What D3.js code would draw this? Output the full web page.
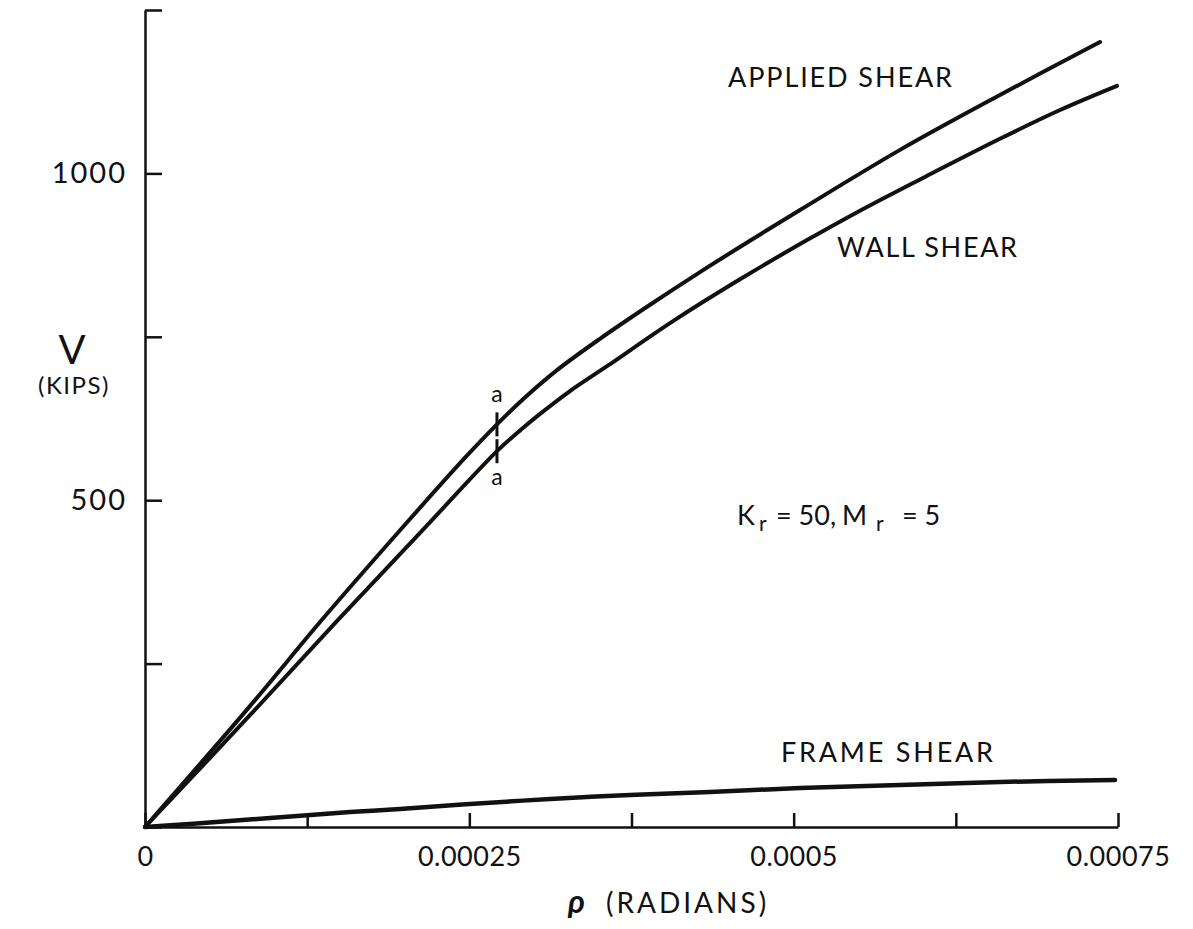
<!DOCTYPE html>
<html>
<head>
<meta charset="utf-8">
<script src="https://cdn.jsdelivr.net/npm/d3@7"></script>
<style>
  html, body { margin: 0; padding: 0; background: #fff; }
  svg text { font-family: "Lato", "Open Sans", "DejaVu Sans", sans-serif; fill: #111; }
</style>
</head>
<body>
<svg id="chart" width="1193" height="929"></svg>
<script>
// Rotation ρ (radians) vs. shear V (kips), Kr = 50, Mr = 5
const appliedRho = [0, 0.0000809, 0.0001364, 0.0001966, 0.0002467, 0.0002713, 0.0002914, 0.0003176, 0.0003507, 0.0003893, 0.0004278, 0.0004663, 0.0005049, 0.000582, 0.000659, 0.0007361];
const appliedV   = [0, 185, 317, 454, 565, 616, 654.5, 699, 747, 799, 849, 897, 944, 1036, 1120, 1201];

const wallRho = [0, 0.0000809, 0.0001488, 0.000212, 0.0002713, 0.0002875, 0.0003045, 0.0003276, 0.0003561, 0.000407, 0.0004586, 0.0005103, 0.0005511, 0.0006074, 0.000659, 0.0007053, 0.0007492];
const wallV   = [0, 171, 317, 450, 575, 604, 632, 667, 705, 774, 838, 898, 943, 1001, 1053, 1097, 1134];

const frameRho = [0, 0.0000347, 0.0000964, 0.000158, 0.0001966, 0.0002505, 0.0003122, 0.0003738, 0.0004355, 0.0005049, 0.000582, 0.000659, 0.0007477];
const frameV   = [0, 4.6, 13.8, 22.9, 27.5, 35.2, 42.8, 49, 53.6, 59.7, 64.3, 68.9, 71.9];

// point "a" marked on the applied and wall curves
const markRho = 0.0002713;
const markV = [616, 575];

const rhoTicks = [0, 0.000125, 0.00025, 0.000375, 0.0005, 0.000625, 0.00075];
const rhoTickLabels = ["0", "", "0.00025", "", "0.0005", "", "0.00075"];
const vTicks = [0, 250, 500, 750, 1000, 1250];
const vTickLabels = ["", "", "500", "", "1000", ""];

const svg = d3.select("#chart");
const x = d3.scaleLinear().domain([0, 0.00075]).range([145, 1118]);
const y = d3.scaleLinear().domain([0, 1250]).range([827, 10]);

// x axis, ticks pointing up into the plot
const xAxis = d3.axisBottom(x)
  .tickValues(rhoTicks)
  .tickFormat((d, i) => rhoTickLabels[i])
  .tickSizeInner(-14).tickSizeOuter(0).tickPadding(20);
const gx = svg.append("g").attr("transform", `translate(0,${y(0)})`).call(xAxis);
gx.select(".domain").attr("stroke", "#111").attr("stroke-width", 2.5);
gx.selectAll(".tick line").attr("stroke", "#111").attr("stroke-width", 2.5);
gx.selectAll(".tick text").attr("font-size", 27).attr("letter-spacing", 0.5).attr("fill", "#111");

// y axis, ticks pointing right into the plot
const yAxis = d3.axisLeft(y)
  .tickValues(vTicks)
  .tickFormat((d, i) => vTickLabels[i])
  .tickSizeInner(-17).tickSizeOuter(0).tickPadding(18);
const gy = svg.append("g").attr("transform", `translate(${x(0)},0)`).call(yAxis);
gy.select(".domain").attr("stroke", "#111").attr("stroke-width", 2.5);
gy.selectAll(".tick line").attr("stroke", "#111").attr("stroke-width", 2.5);
gy.selectAll(".tick text").attr("font-size", 29).attr("letter-spacing", 2).attr("fill", "#111");

// curves
const line = d3.line().x(d => x(d[0])).y(d => y(d[1])).curve(d3.curveCatmullRom.alpha(0.5));
const series = [
  d3.zip(appliedRho, appliedV),
  d3.zip(wallRho, wallV),
  d3.zip(frameRho, frameV)
];
svg.append("g").selectAll("path").data(series).join("path")
  .attr("d", line)
  .attr("fill", "none")
  .attr("stroke", "#111")
  .attr("stroke-width", (d, i) => i === 2 ? 4.5 : 4)
  .attr("stroke-linejoin", "round")
  .attr("stroke-linecap", "round");

// "a" marks
svg.append("g").selectAll("line").data(markV).join("line")
  .attr("x1", x(markRho)).attr("x2", x(markRho))
  .attr("y1", d => y(d) - 12).attr("y2", d => y(d) + 12)
  .attr("stroke", "#111").attr("stroke-width", 3);
svg.append("text").attr("x", x(markRho)).attr("y", y(markV[0]) - 22)
  .attr("text-anchor", "middle").attr("font-size", 23).text("a");
svg.append("text").attr("x", x(markRho)).attr("y", y(markV[1]) + 34)
  .attr("text-anchor", "middle").attr("font-size", 23).text("a");

// curve labels
const label = (txt, px, py, len) => svg.append("text")
  .attr("x", px).attr("y", py).attr("font-size", 27)
  .attr("textLength", len).attr("lengthAdjust", "spacing").text(txt);
label("APPLIED SHEAR", 728, 87, 224);
label("WALL SHEAR", 837, 257, 180);
label("FRAME SHEAR", 781, 762, 212);

// parameter note
const note = svg.append("text").attr("y", 525).attr("font-size", 27);
note.append("tspan").attr("x", 737).text("K");
note.append("tspan").attr("x", 759).attr("dy", 6).attr("font-size", 21).text("r");
note.append("tspan").attr("x", 776).attr("dy", -6).text("= 50,");
note.append("tspan").attr("x", 842).text("M");
note.append("tspan").attr("x", 876).attr("dy", 6).attr("font-size", 21).text("r");
note.append("tspan").attr("x", 902).attr("dy", -6).text("= 5");

// axis titles
svg.append("text").attr("x", 72).attr("y", 364).attr("text-anchor", "middle")
  .attr("font-size", 40).text("V");
svg.append("text").attr("x", 74).attr("y", 394).attr("text-anchor", "middle")
  .attr("font-size", 24).attr("letter-spacing", 1.5).text("(KIPS)");
const xt = svg.append("text").attr("x", 568).attr("y", 913).attr("font-size", 28);
xt.append("tspan").attr("font-style", "italic").attr("font-weight", "bold").attr("font-size", 32).text("ρ");
xt.append("tspan").attr("x", 606).attr("letter-spacing", 3).text("(RADIANS)");
</script>
</body>
</html>
